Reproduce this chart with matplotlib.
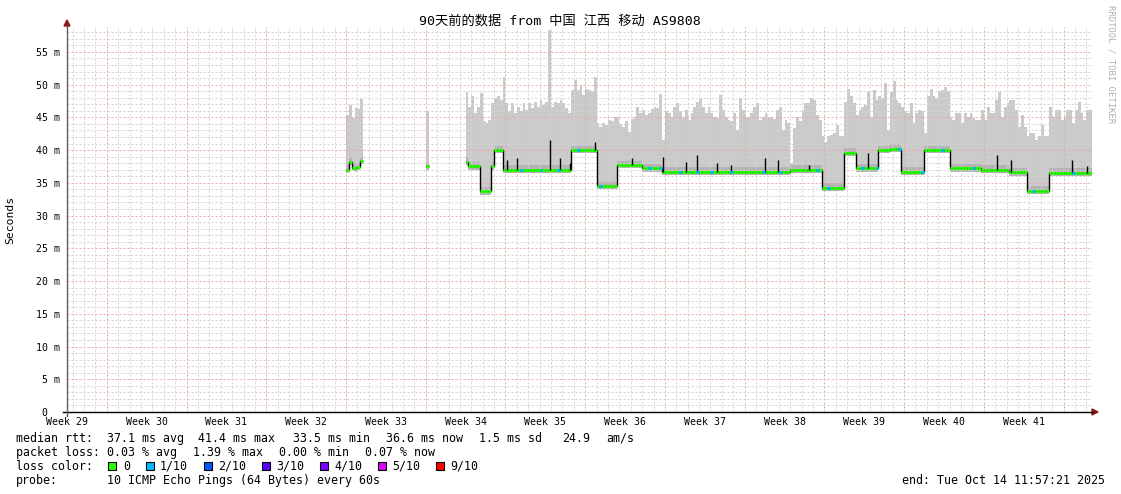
import numpy as np
import matplotlib
matplotlib.use('Agg')
import matplotlib.pyplot as plt
from matplotlib.patches import Rectangle, Polygon
from matplotlib.lines import Line2D

# ---------------- data ----------------
title = "90天前的数据 from 中国 江西 移动 AS9808"
week_labels = ["Week %d" % w for w in range(29, 42)]
week_label_days = [0, 7, 14, 21, 28, 35, 42, 49, 56, 63, 70, 77, 84]
y_tick_values = [0, 5, 10, 15, 20, 25, 30, 35, 40, 45, 50, 55]
y_tick_labels = ["0  ", "5 m", "10 m", "15 m", "20 m", "25 m", "30 m", "35 m",
                 "40 m", "45 m", "50 m", "55 m"]

bin_days = 0.25  # width of one sample (6 h)

# island 1
isl1_start = 24.5
isl1_top = [45.4, 46.9, 44.9, 46.4, 46.2, 47.8]
isl1_median = [37.0, 38.2, 37.3, 37.2, 37.4, 38.3]
# island 2
isl2_start = 31.5
isl2_top = [46.0]
isl2_median = [37.5]

# main run
main_start = 35.0
main_top = [
    48.9, 46.6, 48.2, 45.6, 46.6, 48.7, 44.4, 44.1, 44.6, 47.2,
    47.9, 48.2, 47.7, 51.2, 47.2, 45.9, 47.2, 45.6, 46.6, 45.9,
    47.2, 46.1, 47.2, 46.4, 47.4, 46.6, 47.7, 46.9, 47.4, 58.4,
    46.6, 47.4, 47.2, 47.7, 47.2, 46.4, 45.6, 49.2, 50.7, 49.2,
    50.0, 48.4, 49.4, 49.2, 48.9, 51.2, 44.1, 43.6, 44.1, 43.9,
    44.6, 44.4, 45.1, 45.1, 44.0, 43.5, 44.5, 42.8, 44.8, 45.0,
    46.6, 45.6, 46.1, 45.4, 45.6, 46.3, 46.6, 46.4, 48.6, 41.6,
    45.9, 45.6, 45.1, 46.6, 47.2, 46.0, 45.1, 46.1, 44.6, 45.6,
    46.6, 47.4, 47.9, 46.6, 45.6, 46.6, 45.6, 45.1, 44.9, 48.4,
    46.1, 45.1, 44.6, 44.4, 45.6, 43.0, 48.0, 46.1, 45.1, 45.1,
    45.6, 46.6, 47.2, 44.6, 45.1, 45.6, 44.9, 45.1, 44.8, 46.1,
    46.6, 43.1, 44.6, 44.1, 38.0, 43.3, 45.1, 44.4, 46.1, 47.2,
    47.2, 47.9, 47.7, 45.4, 44.6, 42.1, 41.3, 42.1, 42.3, 42.6,
    43.8, 42.1, 42.1, 47.4, 49.4, 48.2, 47.2, 45.4, 46.1, 46.6,
    46.9, 48.9, 45.1, 49.2, 47.7, 48.2, 47.9, 50.2, 43.1, 48.9,
    50.5, 47.7, 47.2, 46.6, 45.9, 45.6, 47.2, 44.1, 45.6, 46.1,
    45.9, 42.6, 48.2, 49.4, 48.2, 47.9, 49.0, 49.2, 49.7, 49.0,
    45.1, 44.6, 45.6, 45.6, 44.1, 45.6, 45.1, 45.6, 44.9, 44.6,
    44.6, 46.1, 44.6, 46.6, 45.6, 45.6, 47.7, 48.9, 45.1, 46.6,
    47.2, 47.7, 47.7, 46.1, 43.6, 45.4, 43.6, 42.1, 42.6, 42.6,
    41.6, 42.1, 43.8, 42.1, 42.1, 46.6, 45.1, 46.1, 46.1, 44.6,
    45.1, 46.1, 46.1, 44.1, 46.1, 47.4, 45.6, 44.6, 46.1, 46.1,
]
# median level segments of the main run (days, ms)
seg_start = [35.00, 35.25, 36.25, 37.25, 37.50, 38.25, 44.25, 46.50, 48.25, 50.50,
             52.25, 63.50, 66.25, 68.25, 69.25, 71.25, 72.25, 73.25, 75.25, 77.50,
             80.25, 82.75, 84.25, 86.25]
seg_level = [38.2, 37.5, 33.7, 37.5, 40.0, 37.0, 40.0, 34.5, 37.7, 37.2,
             36.7, 37.0, 34.2, 39.6, 37.2, 40.0, 40.2, 36.7, 40.0, 37.2,
             37.0, 36.6, 33.8, 36.5]
# short upward excursions of the median
spike_days = [38.60, 39.48, 42.41, 43.28, 44.16, 46.36, 49.61, 52.29, 54.31, 55.36,
              57.11, 58.30, 61.25, 62.40, 65.15, 70.30, 81.65, 82.85, 88.24, 89.55]
spike_ms = [38.5, 38.8, 41.6, 38.8, 38.0, 41.3, 38.8, 38.9, 38.2, 39.3,
            38.0, 37.7, 38.8, 38.5, 37.7, 39.5, 39.3, 38.5, 38.5, 37.5]
# samples with 1/10 packet loss
loss1_days = [39.9, 41.7, 43.0, 44.9, 46.9, 51.0, 52.0, 53.8, 55.4, 56.7, 58.3,
              61.2, 62.7, 65.8, 66.9, 69.9, 71.0, 73.0, 75.1, 76.8, 79.6, 84.9, 88.4]

loss_labels = ["0", "1/10", "2/10", "3/10", "4/10", "5/10", "9/10"]
loss_colors = ["#26ff00", "#00b8ff", "#0059ff", "#5e00ff", "#7e00ff", "#dd00ff", "#ff0000"]

rtt_items = ["37.1 ms avg", "41.4 ms max", "33.5 ms min", "36.6 ms now", "1.5 ms sd", "24.9", "am/s"]
loss_items = ["0.03 % avg", "1.39 % max", "0.00 % min", "0.07 % now"]
probe_text = "10 ICMP Echo Pings (64 Bytes) every 60s"
end_text = "end: Tue Oct 14 11:57:21 2025"

# ---------------- layout ----------------
W, H, DPI = 1121, 494, 100
MONO = "DejaVu Sans Mono"
fig = plt.figure(figsize=(W / DPI, H / DPI), dpi=DPI, facecolor="white")

X0, X1, YB, YT = 67, 1092, 412, 27
ax = fig.add_axes([X0 / W, 1 - YB / H, (X1 - X0) / W, (YB - YT) / H])
ax.set_xlim(0, 90)
ax.set_ylim(0, 58.8)
for s in ax.spines.values():
    s.set_visible(False)
ax.set_facecolor("white")


def fx(x):
    return x / W


def fy(y):
    return 1 - y / H


# grid
minor_days = [d + 0.5 for d in range(90)]
major_days = [3.5 + 7 * k for k in range(13)]
minor_v = [d for d in minor_days if d not in major_days]
GRID = "#d2d2d2"
RED = "#f2a4a4"
ax.vlines(minor_v, 0, 58.8, colors=GRID, linewidth=0.72,
          linestyles=(0, (2, 2)), zorder=3)
minor_h = [v for v in range(1, 59) if v % 5 != 0]
ax.hlines(minor_h, 0, 90, colors=GRID, linewidth=0.72,
          linestyles=(0, (2, 2)), zorder=3)
ax.vlines(major_days, 0, 58.8, colors=RED, linewidth=0.72,
          linestyles=(0, (2, 2)), zorder=3)
ax.hlines([5 * k for k in range(1, 12)], 0, 90, colors=RED, linewidth=0.72,
          linestyles=(0, (2, 2)), zorder=3)


def median_at(d):
    idx = np.searchsorted(np.array(seg_start), np.asarray(d), side="right") - 1
    return np.array(seg_level)[idx]


def draw_run(start, top, med):
    top = np.asarray(top, float)
    med = np.asarray(med, float)
    edges = start + bin_days * np.arange(len(top) + 1)
    lower = med - 0.5
    ax.stairs(top, edges, baseline=lower, fill=True, color="#cacaca",
              linewidth=0, zorder=2)
    ax.stairs(np.minimum(top, med + 0.7), edges, baseline=lower, fill=True,
              color="#b4b4b4", linewidth=0, zorder=2.5)
    ax.stairs(med, edges, baseline=None, color="black", linewidth=1.0, zorder=5)
    ax.hlines(med, edges[:-1], edges[1:], colors=loss_colors[0], linewidth=2.2, zorder=6)


draw_run(isl1_start, isl1_top, isl1_median)
draw_run(isl2_start, isl2_top, isl2_median)
main_edges = main_start + bin_days * np.arange(len(main_top) + 1)
main_median = median_at(main_edges[:-1] + bin_days / 2)
draw_run(main_start, main_top, main_median)

# median spikes
ax.vlines(spike_days, median_at(spike_days), spike_ms, colors="black", linewidth=1.0, zorder=6.5)
# 1/10 loss samples
l_start = main_start + bin_days * np.floor((np.array(loss1_days) - main_start) / bin_days)
ax.hlines(median_at(l_start + bin_days / 2), l_start, l_start + bin_days,
          colors=loss_colors[1], linewidth=2.2, zorder=7)

# ticks
ax.set_xticks(week_label_days, week_labels, fontfamily=MONO, fontsize=7.1)
ax.set_yticks(y_tick_values, y_tick_labels, fontfamily=MONO, fontsize=7.1)
ax.tick_params(axis="x", length=0, pad=3.5, colors="black")
ax.tick_params(axis="y", length=0, pad=5, colors="black")

# axis lines with arrows
fig.add_artist(Line2D([fx(63), fx(1093)], [fy(412), fy(412)], color="black", lw=1.0))
fig.add_artist(Line2D([fx(67), fx(67)], [fy(416), fy(26)], color="#606060", lw=1.0))
fig.add_artist(Polygon([[fx(1092), fy(409)], [fx(1098), fy(412)], [fx(1092), fy(415)]],
                       closed=True, color="#8b1a1a", transform=fig.transFigure))
fig.add_artist(Polygon([[fx(64), fy(26)], [fx(67), fy(20)], [fx(70), fy(26)]],
                       closed=True, color="#8b1a1a", transform=fig.transFigure))

# title & labels
fig.text(fx(560), fy(21), title, ha="center", va="center", fontsize=9.5,
         family=[MONO, "Noto Sans CJK SC"])
fig.text(fx(10), fy(220), "Seconds", rotation=90, ha="center", va="center",
         fontsize=8.2, family=MONO)
fig.text(fx(1111), fy(5), "RRDTOOL / TOBI OETIKER", rotation=270, ha="center", va="top",
         fontsize=6.4, family=MONO, color="#b0b0b0")

# legend
FS = 8.4
fig.text(fx(16), fy(438), "median rtt:", ha="left", va="center", fontsize=FS, family=MONO)
for txt, x in zip(rtt_items, [107, 198, 293, 386, 479, 562, 606]):
    fig.text(fx(x), fy(438), txt, ha="left", va="center", fontsize=FS, family=MONO)
fig.text(fx(16), fy(452), "packet loss:", ha="left", va="center", fontsize=FS, family=MONO)
for txt, x in zip(loss_items, [107, 193, 279, 365]):
    fig.text(fx(x), fy(452), txt, ha="left", va="center", fontsize=FS, family=MONO)
fig.text(fx(16), fy(466), "loss color:", ha="left", va="center", fontsize=FS, family=MONO)
for lab, col, sx, tx in zip(loss_labels, loss_colors,
                            [108, 146, 204, 262, 320, 378, 436],
                            [123, 160, 218, 276, 334, 392, 450]):
    fig.add_artist(Rectangle((fx(sx), fy(470)), 8 / W, 8 / H, facecolor=col,
                             edgecolor="black", linewidth=0.8, transform=fig.transFigure))
    fig.text(fx(tx), fy(466), lab, ha="left", va="center", fontsize=FS, family=MONO)
fig.text(fx(16), fy(480), "probe:", ha="left", va="center", fontsize=FS, family=MONO)
fig.text(fx(107), fy(480), probe_text, ha="left", va="center", fontsize=FS, family=MONO)
fig.text(fx(1105), fy(480), end_text, ha="right", va="center", fontsize=FS, family=MONO)

fig.savefig("out.png", dpi=DPI, facecolor="white")
